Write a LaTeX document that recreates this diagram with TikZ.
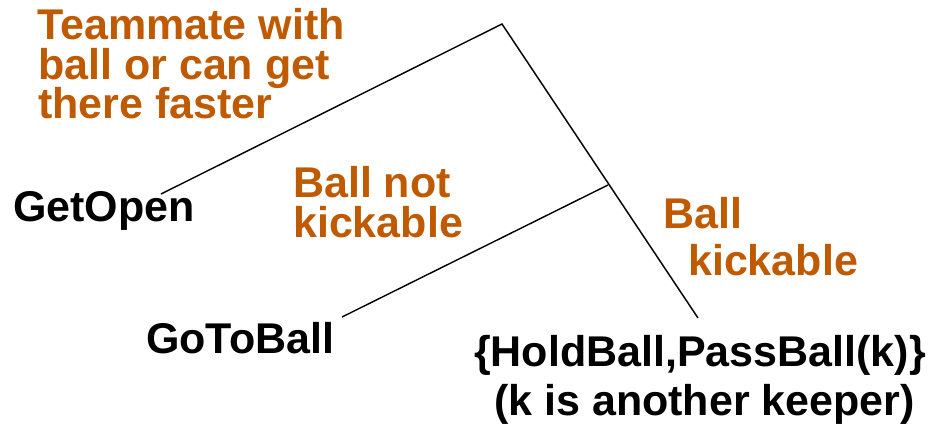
\documentclass[tikz,border=0pt]{standalone}
\usepackage{fontspec}
\setmainfont{Liberation Sans}
\definecolor{cond}{RGB}{192,90,0}
\begin{document}
\begin{tikzpicture}[x=1bp,y=-1bp,
  lbl/.style={inner sep=0pt,anchor=base west,font=\fontsize{43bp}{43bp}\selectfont\bfseries},
  condlbl/.style={lbl,text=cond},
  act/.style={lbl,text=black},
  edge/.style={draw=black,line width=1.4bp}]
\useasboundingbox (0,0) rectangle (930,432);
% coordinates of the tree
\coordinate (root) at (502,24);
\coordinate (mid) at (608,185);
\coordinate (leafopen) at (161,194);
\coordinate (leafgoto) at (342,317);
\coordinate (leafhold) at (698,318);
\draw[edge] (leafopen) -- (root) -- (leafhold);
\draw[edge] (mid) -- (leafgoto);
% condition labels
\node[condlbl] (c1a) at (37,39.5) {Teammate with};
\node[condlbl] (c1b) at (38,79) {ball or can get};
\node[condlbl] (c1c) at (38,118) {there faster};
\node[condlbl] (c2a) at (293,197) {Ball not};
\node[condlbl] (c2b) at (293,237) {kickable};
\node[condlbl] (c3a) at (663,228) {Ball};
\node[condlbl] (c3b) at (688,275) {kickable};
% action labels
\node[act] (getopen) at (13,221) {GetOpen};
\node[act] (gotoball) at (146,353) {GoToBall};
\node[act] (hold) at (474,366.5) {\{HoldBall,PassBall(k)\}};
\node[act] (keeper) at (494,415) {(k is another keeper)};
\end{tikzpicture}
\end{document}
